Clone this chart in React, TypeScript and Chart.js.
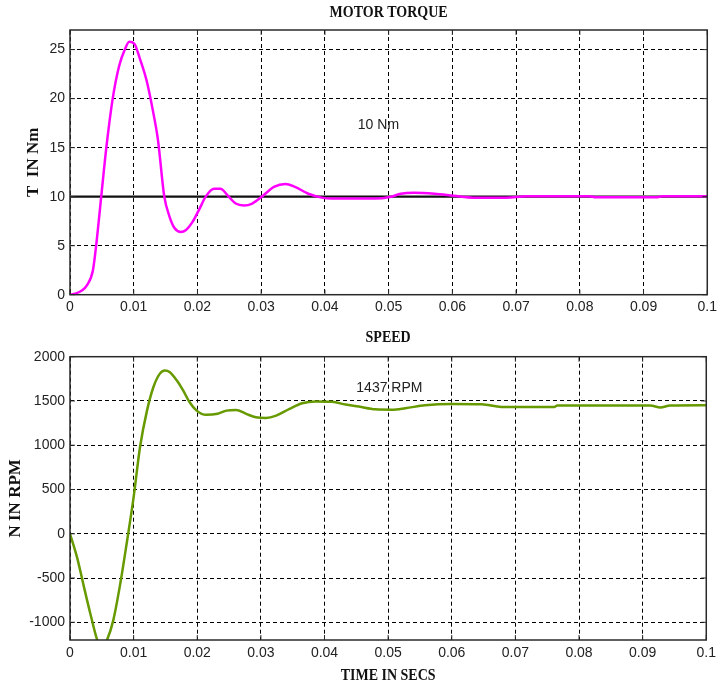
import React, { useEffect, useRef } from "react";
import { Chart, registerables } from "chart.js";

Chart.register(...registerables);

// ---------- data ----------
const TIME_TICKS = [0, 0.01, 0.02, 0.03, 0.04, 0.05, 0.06, 0.07, 0.08, 0.09, 0.1];
const TIME_TICK_LABELS = ["0", "0.01", "0.02", "0.03", "0.04", "0.05", "0.06", "0.07", "0.08", "0.09", "0.1"];
const TORQUE_TICKS = [0, 5, 10, 15, 20, 25];
const SPEED_TICKS = [-1000, -500, 0, 500, 1000, 1500, 2000];

const TORQUE_T = [0, 0.0008, 0.0018, 0.0027, 0.0036, 0.0041, 0.0049, 0.0057, 0.0067, 0.0077, 0.0086, 0.0093, 0.0101, 0.0109, 0.012, 0.013, 0.0138, 0.0148, 0.0156, 0.0164, 0.0174, 0.0182, 0.0192, 0.0202, 0.0213, 0.0226, 0.0236, 0.0249, 0.026, 0.0273, 0.0286, 0.0301, 0.032, 0.0338, 0.0353, 0.0374, 0.0395, 0.041, 0.0452, 0.0478, 0.0504, 0.0519, 0.054, 0.0572, 0.0602, 0.0633, 0.0685, 0.0716, 0.0815, 0.0825, 0.092, 0.093, 0.1];
const TORQUE_V = [0, 0.1, 0.4, 1.0, 2.5, 5.0, 10.0, 15.0, 20.0, 23.3, 25.0, 25.8, 25.6, 24.2, 21.9, 18.8, 15.8, 10.0, 8.0, 6.8, 6.4, 6.6, 7.4, 8.6, 10.0, 10.8, 10.8, 10.0, 9.3, 9.1, 9.3, 10.0, 11.0, 11.3, 11.0, 10.3, 9.9, 9.8, 9.8, 9.8, 10.0, 10.3, 10.4, 10.3, 10.1, 9.9, 9.9, 10.05, 10.05, 9.95, 9.95, 10.05, 10.05];
const REF_TORQUE = 10;

const SPEED_T = [0, 0.0011, 0.0022, 0.0032, 0.0043, 0.005, 0.0058, 0.0068, 0.0079, 0.0089, 0.01, 0.011, 0.0121, 0.0131, 0.0141, 0.0149, 0.0157, 0.0168, 0.0178, 0.0188, 0.0199, 0.0214, 0.0232, 0.0246, 0.0261, 0.0277, 0.0292, 0.0308, 0.0324, 0.0345, 0.0365, 0.0386, 0.0412, 0.0433, 0.0454, 0.048, 0.0506, 0.0527, 0.0558, 0.06, 0.0647, 0.0678, 0.0761, 0.0766, 0.0912, 0.0928, 0.0943, 0.1];
const SPEED_V = [0, -264, -603, -903, -1204, -1300, -1204, -978, -564, -113, 413, 977, 1391, 1655, 1806, 1843, 1824, 1730, 1617, 1485, 1391, 1343, 1355, 1391, 1399, 1354, 1316, 1309, 1335, 1411, 1474, 1494, 1490, 1459, 1437, 1406, 1402, 1418, 1452, 1467, 1464, 1433, 1433, 1448, 1448, 1426, 1448, 1452];

const TORQUE_NOTE = { text: "10 Nm", t: 0.0484, v: 17.3 };
const SPEED_NOTE = { text: "1437 RPM", t: 0.0502, v: 1640 };

// ---------- helpers ----------
const TICK_FONT = { family: '"Liberation Sans", Arial, sans-serif', size: 14 };
const SERIF = '"Liberation Serif", "Times New Roman", serif';

type Deco = {
  title: string;
  titleY: number;
  yTitle: string;
  yTitleX: number;
  xTitle?: string;
  xTitleY?: number;
  note: { text: string; t: number; v: number };
};

function decoPlugin(d: Deco) {
  return {
    id: "deco",
    afterDraw(chart: any) {
      const { ctx, chartArea } = chart;
      const { left, right, top, bottom } = chartArea;
      const xs = chart.scales.x;
      const ys = chart.scales.y;
      ctx.save();
      // frame
      ctx.strokeStyle = "#2a2a2a";
      ctx.lineWidth = 1.5;
      ctx.setLineDash([]);
      ctx.strokeRect(left, top, right - left, bottom - top);
      // inward tick marks
      ctx.lineWidth = 1;
      ctx.beginPath();
      xs.ticks.forEach((tk: any) => {
        const px = xs.getPixelForValue(tk.value);
        ctx.moveTo(px, bottom); ctx.lineTo(px, bottom - 5);
        ctx.moveTo(px, top); ctx.lineTo(px, top + 5);
      });
      ys.ticks.forEach((tk: any) => {
        const py = ys.getPixelForValue(tk.value);
        ctx.moveTo(left, py); ctx.lineTo(left + 5, py);
        ctx.moveTo(right, py); ctx.lineTo(right - 5, py);
      });
      ctx.stroke();
      const cx = (left + right) / 2;
      // title (stretched serif)
      ctx.fillStyle = "#111";
      ctx.textAlign = "center";
      ctx.textBaseline = "middle";
      const drawStretched = (txt: string, x: number, y: number) => {
        ctx.save();
        ctx.translate(x, y);
        ctx.scale(1, 1.25);
        ctx.font = `bold 14px ${SERIF}`;
        ctx.fillText(txt, 0, 0);
        ctx.restore();
      };
      drawStretched(d.title, cx, d.titleY);
      if (d.xTitle) drawStretched(d.xTitle, cx, d.xTitleY as number);
      // y title
      ctx.save();
      ctx.translate(d.yTitleX, (top + bottom) / 2);
      ctx.rotate(-Math.PI / 2);
      ctx.font = `bold 17px ${SERIF}`;
      ctx.fillText(d.yTitle, 0, 0);
      ctx.restore();
      // note
      ctx.font = `14px ${TICK_FONT.family}`;
      ctx.fillStyle = "#222";
      ctx.fillText(d.note.text, xs.getPixelForValue(d.note.t), ys.getPixelForValue(d.note.v));
      ctx.restore();
    },
  };
}

function makeScales(yMin: number, yMax: number, yTicks: number[], xHeight: number, xPad: number) {
  return {
    x: {
      type: "linear",
      min: 0,
      max: 0.1,
      afterBuildTicks: (s: any) => { s.ticks = TIME_TICKS.map((v) => ({ value: v })); },
      afterFit: (s: any) => { s.height = xHeight; },
      ticks: {
        font: TICK_FONT,
        color: "#222",
        padding: xPad,
        maxRotation: 0,
        autoSkip: false,
        callback: (val: number) => {
          const i = TIME_TICKS.findIndex((t) => Math.abs(t - val) < 1e-9);
          return i >= 0 ? TIME_TICK_LABELS[i] : "";
        },
      },
      grid: { color: "#000", lineWidth: 1, drawTicks: false },
      border: { display: false, dash: [4, 3] },
    },
    y: {
      type: "linear",
      min: yMin,
      max: yMax,
      afterBuildTicks: (s: any) => { s.ticks = yTicks.map((v) => ({ value: v })); },
      afterFit: (s: any) => { s.width = 70; },
      ticks: {
        font: TICK_FONT,
        color: "#222",
        padding: 5,
        autoSkip: false,
        callback: (val: number) => String(val),
      },
      grid: { color: "#000", lineWidth: 1, drawTicks: false },
      border: { display: false, dash: [4, 3] },
    },
  };
}

function TorqueChart() {
  const ref = useRef<HTMLCanvasElement>(null);
  useEffect(() => {
    const chart = new Chart(ref.current as HTMLCanvasElement, {
      type: "line",
      data: {
        datasets: [
          {
            data: TORQUE_T.map((t, i) => ({ x: t, y: TORQUE_V[i] })),
            borderColor: "#ff00ff",
            borderWidth: 2.5,
            pointRadius: 0,
            cubicInterpolationMode: "monotone",
            fill: false,
          },
          {
            data: [{ x: 0, y: REF_TORQUE }, { x: 0.1, y: REF_TORQUE }],
            borderColor: "#111",
            borderWidth: 2.2,
            pointRadius: 0,
            fill: false,
          },
        ],
      },
      options: {
        animation: false,
        responsive: false,
        events: [],
        layout: { padding: { top: 30, right: 8.3, left: 0, bottom: 0 } },
        plugins: { legend: { display: false }, title: { display: false }, tooltip: { enabled: false } },
        scales: makeScales(0, 27, TORQUE_TICKS, 23.3, 4) as any,
      },
      plugins: [decoPlugin({ title: "MOTOR TORQUE", titleY: 12, yTitle: "T  IN Nm", yTitleX: 34, note: TORQUE_NOTE })],
    } as any);
    return () => chart.destroy();
  }, []);
  return <canvas ref={ref} width={721} height={318} style={{ display: "block" }} />;
}

function SpeedChart() {
  const ref = useRef<HTMLCanvasElement>(null);
  useEffect(() => {
    const chart = new Chart(ref.current as HTMLCanvasElement, {
      type: "line",
      data: {
        datasets: [
          {
            data: SPEED_T.map((t, i) => ({ x: t, y: SPEED_V[i] })),
            borderColor: "#669a00",
            borderWidth: 2.5,
            pointRadius: 0,
            cubicInterpolationMode: "monotone",
            fill: false,
            clip: 0,
          },
        ],
      },
      options: {
        animation: false,
        responsive: false,
        events: [],
        layout: { padding: { top: 38.7, right: 11.7, left: 0, bottom: 0 } },
        plugins: { legend: { display: false }, title: { display: false }, tooltip: { enabled: false } },
        scales: makeScales(-1200, 2000, SPEED_TICKS, 46, 5) as any,
      },
      plugins: [decoPlugin({ title: "SPEED", titleY: 19.5, yTitle: "N IN RPM", yTitleX: 16, xTitle: "TIME IN SECS", xTitleY: 357, note: SPEED_NOTE })],
    } as any);
    return () => chart.destroy();
  }, []);
  return <canvas ref={ref} width={721} height={368} style={{ display: "block" }} />;
}

export default function App() {
  return (
    <div style={{ position: "absolute", left: 0, top: 0, width: 721, height: 686, background: "#fff" }}>
      <div style={{ position: "absolute", left: 0, top: 0 }}>
        <TorqueChart />
      </div>
      <div style={{ position: "absolute", left: 0, top: 318 }}>
        <SpeedChart />
      </div>
    </div>
  );
}
